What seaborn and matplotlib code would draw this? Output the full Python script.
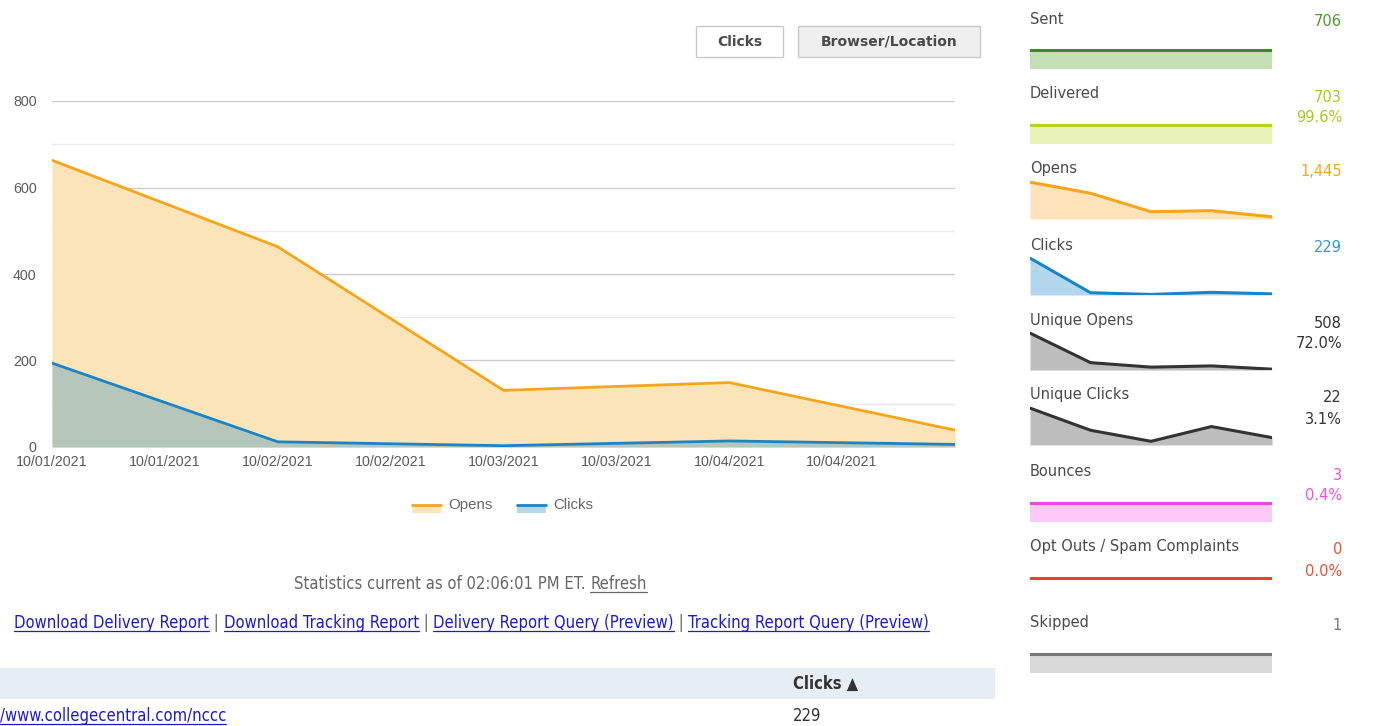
import numpy as np
import matplotlib
matplotlib.use("Agg")
import matplotlib.pyplot as plt
import seaborn as sns
from matplotlib.patches import Rectangle
from matplotlib.lines import Line2D

# data
days = [0, 1, 2, 3, 4]
tick_labels = ["10/01/2021", "10/01/2021", "10/02/2021", "10/02/2021",
               "10/03/2021", "10/03/2021", "10/04/2021", "10/04/2021"]
opens = [663, 463, 131, 149, 39]
clicks = [194, 12, 3, 14, 6]
unique_opens = [360, 72, 28, 40, 8]
unique_clicks = [10, 4, 1, 5, 2]

stat_names = ["Sent", "Delivered", "Opens", "Clicks", "Unique Opens",
              "Unique Clicks", "Bounces", "Opt Outs / Spam Complaints", "Skipped"]
stat_values = ["706", "703", "1,445", "229", "508", "22", "3", "0", "1"]
stat_pcts = ["", "99.6%", "", "", "72.0%", "3.1%", "0.4%", "0.0%", ""]
stat_series = [[706] * 5, [703] * 5, opens, clicks, unique_opens,
               unique_clicks, [3] * 5, [0] * 5, [1] * 5]

W, H = 1379, 726
sns.set_theme(style="white")
plt.rcParams["font.family"] = ["DejaVu Sans"]

fig = plt.figure(figsize=(W / 100, H / 100), dpi=100)


def fx(x):
    return x / W


def fy(y):
    return 1 - y / H


def px_axes(x0, y0, x1, y1):
    return fig.add_axes([x0 / W, 1 - y1 / H, (x1 - x0) / W, (y1 - y0) / H])


# ---- main chart
ORANGE = "#f7a51c"
BLUE = "#1c84c6"
ax = px_axes(52, 101, 955, 447)
for v in range(0, 801, 100):
    ax.axhline(v, color="#cccccc" if v % 200 == 0 else "#e9e9e9", lw=1, zorder=0)
ax.fill_between(days, opens, color="#fce4b9", lw=0, zorder=1)
ax.fill_between(days, clicks, color="#b5c7ba", lw=0, zorder=2)
sns.lineplot(x=days, y=opens, ax=ax, color=ORANGE, lw=2, zorder=3)
sns.lineplot(x=days, y=clicks, ax=ax, color=BLUE, lw=2, zorder=4)
ax.set_xlim(0, 4)
ax.set_ylim(0, 800)
ax.set_yticks(range(0, 801, 200))
ax.set_xticks(np.arange(0, 4, 0.5))
ax.set_xticklabels(tick_labels)
ax.tick_params(axis="both", length=0, colors="#5a5a5a", labelsize=10.3)
ax.tick_params(axis="x", pad=6)
ax.tick_params(axis="y", pad=11)
for lab in ax.get_xticklabels() + ax.get_yticklabels():
    lab.set_family("Liberation Sans")
ax.set_xlabel("")
ax.set_ylabel("")
sns.despine(ax=ax, left=True, bottom=True)

# legend
for x0, name, lc, fc in [(412, "Opens", ORANGE, "#fde3b9"), (517, "Clicks", BLUE, "#b3d8ee")]:
    fig.patches.append(Rectangle((fx(x0), fy(513)), 29 / W, 8 / H, transform=fig.transFigure,
                                 color=fc, lw=0))
    fig.lines.append(Line2D([fx(x0), fx(x0 + 29)], [fy(505), fy(505)], transform=fig.transFigure,
                            color=lc, lw=2))
    fig.text(fx(x0 + 36), fy(505), name, fontsize=10.8, color="#666666",
             family="Liberation Sans", va="center", ha="left")

# buttons
for x0, x1, label, face in [(696, 783, "Clicks", "white"), (798, 980, "Browser/Location", "#efefef")]:
    fig.patches.append(Rectangle((fx(x0), fy(57)), (x1 - x0) / W, 31 / H, transform=fig.transFigure,
                                 facecolor=face, edgecolor="#c8c8c8", lw=1))
    fig.text(fx((x0 + x1) / 2), fy(41.5), label, fontsize=10, fontweight="bold",
             color="#4a4a4a", ha="center", va="center")

# ---- sidebar sparklines
tops = [18, 93, 168, 244, 319, 394, 471, 546, 622]
styles = [("#3a8a1c", "#c4dfb5", "#4d9a2a"),
          ("#b6d11d", "#e9f3b9", "#a9c81c"),
          (ORANGE, "#fde3b9", ORANGE),
          (BLUE, "#b3d8ee", "#2a9ad8"),
          ("#333333", "#bdbdbd", "#333333"),
          ("#333333", "#bdbdbd", "#333333"),
          ("#f446da", "#fdc9f6", "#f050e0"),
          ("#e5452f", "#fbd0c8", "#e8503a"),
          ("#777777", "#d9d9d9", "#777777")]
for name, val, pct, series, top, (lc, fc, tc) in zip(stat_names, stat_values, stat_pcts,
                                                     stat_series, tops, styles):
    fig.text(fx(1030), fy(top + 1), name, fontsize=10.5, color="#4a4a4a", va="center", ha="left")
    fig.text(fx(1342), fy(top + 4), val, fontsize=10.5, color=tc, va="center", ha="right")
    if pct:
        fig.text(fx(1342), fy(top + 25), pct, fontsize=10.5, color=tc, va="center", ha="right")
    sax = px_axes(1030, top + 13, 1272, top + 51)
    sax.fill_between(days, series, color=fc, lw=0)
    sns.lineplot(x=days, y=series, ax=sax, color=lc, lw=2.2)
    sax.set_xlim(0, 4)
    mx = max(series)
    if min(series) == mx:
        sax.set_ylim((0, 2 * mx) if mx > 0 else (-1, 1))
    else:
        sax.set_ylim(0, mx * 1.03)
    sax.axis("off")

# ---- status line, links and table
fig.canvas.draw()
renderer = fig.canvas.get_renderer()
SIZE = 11.9


def text_run(pieces, x, y, size=SIZE):
    for txt, color, underline in pieces:
        t = fig.text(fx(x), fy(y), txt, fontsize=size, color=color, family="DejaVu Sans",
                     fontstretch="condensed", va="baseline", ha="left")
        bb = t.get_window_extent(renderer)
        if underline:
            fig.lines.append(Line2D([fx(bb.x0), fx(bb.x1)], [fy(y + 3), fy(y + 3)],
                                    transform=fig.transFigure, color=color, lw=0.9))
        x = bb.x1


text_run([("Statistics current as of 02:06:01 PM ET. ", "#666666", False),
          ("Refresh", "#666666", True)], 294, 589)

LINK = "#1a1ad0"
SEP = "#666666"
text_run([("Download Delivery Report", LINK, True), (" | ", SEP, False),
          ("Download Tracking Report", LINK, True), (" | ", SEP, False),
          ("Delivery Report Query (Preview)", LINK, True), (" | ", SEP, False),
          ("Tracking Report Query (Preview)", LINK, True)], 14, 628)

fig.patches.append(Rectangle((0, fy(699)), 995 / W, 31 / H, transform=fig.transFigure,
                             color="#e6edf4", lw=0))
fig.text(fx(793), fy(689), "Clicks \u25b2", fontsize=SIZE, fontweight="bold",
         color="#333333", family="DejaVu Sans", fontstretch="condensed",
         va="baseline", ha="left")
text_run([("/www.collegecentral.com/nccc", LINK, True)], 0, 721)
fig.text(fx(793), fy(721), "229", fontsize=SIZE, color="#333333", family="DejaVu Sans",
         fontstretch="condensed", va="baseline", ha="left")

fig.savefig("out.png", dpi=100)
